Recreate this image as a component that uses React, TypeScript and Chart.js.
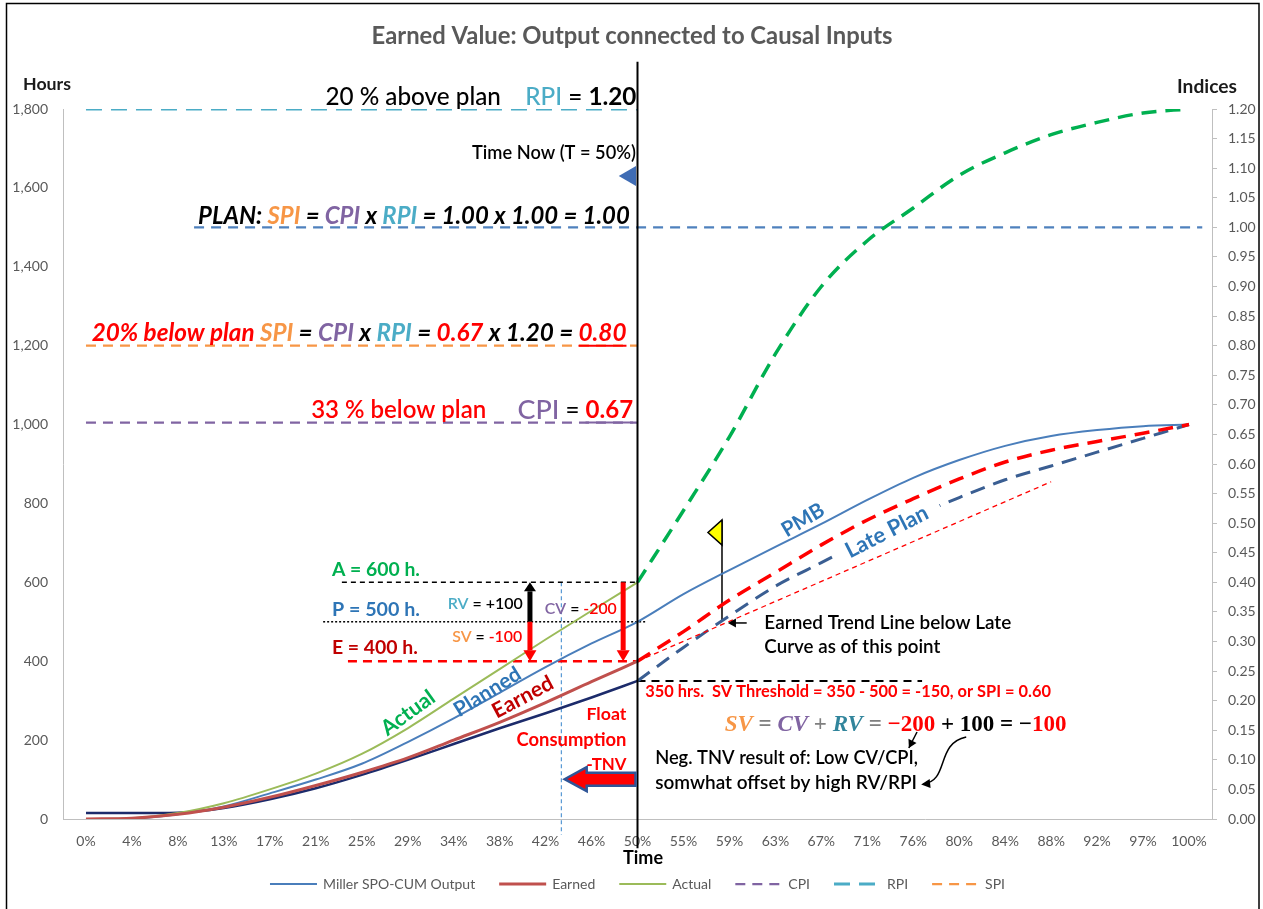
import { useEffect, useRef } from 'react';
import { Chart, registerables } from 'chart.js';

Chart.register(...registerables);

const SANS = 'Lato, "Open Sans", "DejaVu Sans", sans-serif';
const SERIF = '"Liberation Serif", "DejaVu Serif", serif';

// Time axis: share of the schedule elapsed
const timeLabels = ['0%', '4%', '8%', '13%', '17%', '21%', '25%', '29%', '34%', '38%', '42%', '46%', '50%',
  '55%', '59%', '63%', '67%', '71%', '76%', '80%', '84%', '88%', '92%', '97%', '100%'];

// Cumulative hours over the whole schedule (PMB)
const plannedHours = [0, 1, 12, 32, 65, 100, 140, 195, 255, 320, 385, 445, 500,
  570, 631, 690, 748, 809, 865, 910, 946, 971, 986, 996, 1000];
// Cumulative hours from 0% to time now (50%)
const earnedHours = [0, 2, 12, 30, 55, 85, 118, 155, 200, 245, 295, 348, 400];
const actualHours = [0, 2, 15, 40, 75, 115, 165, 230, 305, 380, 455, 528, 600];
const latePlanHours = [15, 15, 16, 28, 50, 78, 112, 150, 190, 230, 268, 308, 350];
// Projections from time now (50%) to completion (100%)
const earnedForecast = [400, 475, 555, 625, 695, 758, 812, 862, 905, 935, 957, 978, 1000];
const actualForecast = [600, 782, 969, 1179, 1350, 1466, 1549, 1632, 1689, 1735, 1766, 1790, 1800];
const latePlanForecast = [350, 435, 515, 590, 650, 710, 765, 815, 860, 895, 930, 965, 1000];
// Earned trend line: [time %, hours]
const earnedTrend = [[50, 400], [87.5, 855]];

// Performance indices (right axis)
const rpiIndex = 1.2;
const planIndex = 1.0;
const spiIndex = 0.8;
const cpiIndex = 0.67;

// Status at time now
const timeNow = 50;
const actualNow = 600;
const plannedNow = 500;
const earnedNow = 400;
const svThreshold = 350;
const earnedSchedule = 43.1;

const RED = '#FF0000';
const CRIMSON = '#C00000';
const ORANGE = '#F79646';
const PURPLE = '#8064A2';
const CYAN = '#4BACC6';
const TEXT_GREEN = '#00B050';
const TEXT_BLUE = '#2E75B6';
const AXIS_GREY = '#595959';

const STYLE = {
  planned: { color: '#4A7EBB', width: 2, dash: [] as number[] },
  earned: { color: '#C0504D', width: 3, dash: [] as number[] },
  actual: { color: '#9BBB59', width: 2, dash: [] as number[] },
  cpi: { color: PURPLE, width: 2.25, dash: [10, 7] },
  rpi: { color: CYAN, width: 3, dash: [16, 9] },
  spi: { color: ORANGE, width: 2.25, dash: [10, 7] },
};

const N = timeLabels.length;
const past = (arr: number[]) => [...arr, ...Array(N - arr.length).fill(null)];
const future = (arr: number[]) => [...Array(N - arr.length).fill(null), ...arr];

const series = (label: string, data: any[], color: string, width: number, dash: number[] = []) => ({
  label, data, borderColor: color, backgroundColor: color, borderWidth: width, borderDash: dash,
  pointRadius: 0, fill: false, cubicInterpolationMode: 'monotone', spanGaps: false,
  xAxisID: 'x', yAxisID: 'y',
});

const segment = (label: string, pts: number[][], color: string, width: number, dash: number[],
  yAxisID = 'y', extra: any = {}) => ({
  label, data: pts.map(([x, y]) => ({ x, y })), borderColor: color, backgroundColor: color,
  borderWidth: width, borderDash: dash, pointRadius: 0, fill: false, tension: 0,
  xAxisID: 'xl', yAxisID, ...extra,
});

type Run = { t?: string; c?: string; b?: boolean; w?: number; i?: boolean; s?: number; f?: string; u?: string; g?: number };

const runFont = (r: Run, size: number) =>
  `${r.i ? 'italic ' : ''}${r.w ?? (r.b ? 700 : 400)} ${(size * (r.s ?? 1)).toFixed(2)}px ${r.f ?? SANS}`;

function rich(ctx: CanvasRenderingContext2D, runs: Run[], x: number, y: number, o: any) {
  const align = o.align ?? 'left';
  const base = o.size ?? 16;
  const widthAt = (sz: number) => runs.reduce((w, r) => {
    if (r.g) return w + r.g * sz;
    ctx.font = runFont(r, sz);
    return w + ctx.measureText(r.t ?? '').width;
  }, 0);
  const sz = o.width ? base * o.width / widthAt(base) : base;
  const total = widthAt(sz);
  ctx.save();
  ctx.translate(x, y);
  if (o.angle) ctx.rotate((o.angle * Math.PI) / 180);
  let cx = align === 'left' ? 0 : align === 'right' ? -total : -total / 2;
  ctx.textBaseline = 'middle';
  ctx.textAlign = 'left';
  if (o.bg) {
    ctx.fillStyle = o.bg;
    ctx.fillRect(cx - o.bgPad[0], -o.bgPad[1], total + 2 * o.bgPad[0], 2 * o.bgPad[1]);
  }
  for (const r of runs) {
    if (r.g) { cx += r.g * sz; continue; }
    ctx.font = runFont(r, sz);
    const w = ctx.measureText(r.t ?? '').width;
    ctx.fillStyle = r.c ?? '#000';
    ctx.fillText(r.t ?? '', cx, 0);
    if (r.u) {
      ctx.strokeStyle = r.u;
      ctx.lineWidth = 2;
      ctx.setLineDash([]);
      ctx.beginPath();
      ctx.moveTo(cx, sz * 0.52);
      ctx.lineTo(cx + w, sz * 0.52);
      ctx.stroke();
    }
    cx += w;
  }
  ctx.restore();
}

function head(ctx: CanvasRenderingContext2D, x: number, y: number, ang: number, len: number, half: number, color: string) {
  ctx.save();
  ctx.translate(x, y);
  ctx.rotate(ang);
  ctx.fillStyle = color;
  ctx.beginPath();
  ctx.moveTo(0, 0);
  ctx.lineTo(-len, -half);
  ctx.lineTo(-len, half);
  ctx.closePath();
  ctx.fill();
  ctx.restore();
}

function fatArrowV(ctx: CanvasRenderingContext2D, x: number, from: number, to: number, color: string,
  shaft: number, headW: number, headL: number) {
  const dir = Math.sign(to - from);
  const yb = to - dir * headL;
  ctx.fillStyle = color;
  ctx.fillRect(x - shaft / 2, Math.min(from, yb), shaft, Math.abs(yb - from));
  ctx.beginPath();
  ctx.moveTo(x - headW / 2, yb);
  ctx.lineTo(x + headW / 2, yb);
  ctx.lineTo(x, to);
  ctx.closePath();
  ctx.fill();
}

// Notes placed in data space: at = [time %, hours]
const notes: any[] = [
  { at: [49.9, 1830], align: 'right', width: 311, size: 22, runs: [
    { t: '20 % above plan', w: 500 }, { g: 1.0 }, { t: 'RPI', c: CYAN, w: 500 }, { t: ' = ', w: 500 }, { t: '1.20', b: true }] },
  { at: [49.86, 1688], align: 'right', width: 164, size: 17, runs: [{ t: 'Time Now (T = 50%)', w: 600 }] },
  { at: [49.3, 1529], align: 'right', width: 432, size: 22, runs: [
    { t: 'PLAN: ', i: true, b: true }, { t: 'SPI', c: ORANGE, i: true, b: true }, { t: ' = ', i: true, b: true },
    { t: 'CPI', c: PURPLE, i: true, b: true }, { t: ' x ', i: true, b: true }, { t: 'RPI', c: CYAN, i: true, b: true },
    { t: ' = 1.00 x 1.00 = 1.00', i: true, b: true }] },
  { at: [49.0, 1232], align: 'right', width: 535, size: 22, runs: [
    { t: '20% below plan ', c: RED, i: true, b: true }, { t: 'SPI', c: ORANGE, i: true, b: true },
    { t: ' = ', i: true, b: true }, { t: 'CPI', c: PURPLE, i: true, b: true }, { t: ' x ', i: true, b: true },
    { t: 'RPI', c: CYAN, i: true, b: true }, { t: ' = ', i: true, b: true }, { t: '0.67', c: RED, i: true, b: true },
    { t: ' x 1.20 = ', i: true, b: true }, { t: '0.80', c: RED, i: true, b: true, u: RED }] },
  { at: [49.6, 1037], align: 'right', width: 322, size: 22, runs: [
    { t: '33 % below plan', c: RED, w: 600 }, { g: 1.3 }, { t: 'CPI', c: PURPLE, s: 1.12, w: 500 }, { t: ' = ', w: 500 },
    { t: '0.67', c: RED, b: true, u: PURPLE }] },
  { at: [22.3, 631], width: 88, size: 18, runs: [{ t: 'A = 600 h.', c: TEXT_GREEN, b: true }] },
  { at: [22.3, 530], width: 88, size: 18, runs: [{ t: 'P = 500 h.', c: TEXT_BLUE, b: true }] },
  { at: [22.3, 434], width: 86, size: 18, runs: [{ t: 'E = 400 h.', c: CRIMSON, b: true }] },
  { at: [32.8, 545], width: 75, size: 14, runs: [{ t: 'RV', c: CYAN, w: 600 }, { t: ' = +100', w: 600 }] },
  { at: [41.6, 532], width: 72, size: 14, runs: [{ t: 'CV', c: PURPLE, w: 600 }, { t: ' = ', w: 600 }, { t: '-200', c: RED, w: 600 }] },
  { at: [33.2, 461], width: 70, size: 14, runs: [{ t: 'SV', c: ORANGE, w: 600 }, { t: ' = ', w: 600 }, { t: '-100', c: RED, w: 600 }] },
  { at: [29.2, 269], align: 'center', angle: -36, width: 61, size: 18, runs: [{ t: 'Actual', c: TEXT_GREEN, b: true }] },
  { at: [36.4, 322], align: 'center', angle: -32, width: 75, size: 18, runs: [{ t: 'Planned', c: TEXT_BLUE, b: true }] },
  { at: [39.6, 309], align: 'center', angle: -28, width: 66, size: 18, runs: [{ t: 'Earned', c: CRIMSON, b: true }] },
  { at: [49.0, 266], align: 'right', width: 40, size: 17, runs: [{ t: 'Float', c: RED, b: true }] },
  { at: [49.0, 200], align: 'right', width: 110, size: 17, runs: [{ t: 'Consumption', c: RED, b: true }] },
  { at: [49.0, 139], align: 'right', width: 40, size: 17, runs: [{ t: '-TNV', c: RED, b: true }] },
  { at: [50.7, 322], width: 406, size: 15, runs: [{ t: '350 hrs.  SV Threshold = 350 - 500 = -150, or SPI = 0.60', c: RED, b: true }] },
  { at: [57.9, 238], width: 342, size: 20, runs: [
    { t: 'SV', c: ORANGE, i: true, b: true, f: SERIF }, { t: ' = ', c: '#7F7F7F', b: true, f: SERIF },
    { t: 'CV', c: PURPLE, i: true, b: true, f: SERIF }, { t: ' + ', c: '#7F7F7F', b: true, f: SERIF },
    { t: 'RV', c: '#31859C', i: true, b: true, f: SERIF }, { t: ' = ', c: '#7F7F7F', b: true, f: SERIF },
    { t: '\u2212200', c: RED, b: true, f: SERIF }, { t: ' + ', b: true, f: SERIF }, { t: '100', b: true, f: SERIF },
    { t: ' = \u2212', b: true, f: SERIF }, { t: '100', c: RED, b: true, f: SERIF }] },
  { at: [51.6, 155], width: 263, size: 17, runs: [{ t: 'Neg. TNV result of: Low CV/CPI,', w: 600 }] },
  { at: [51.6, 91], width: 262, size: 17, runs: [{ t: 'somwhat offset by high RV/RPI', w: 600 }] },
  { at: [61.5, 497], width: 247, size: 17, runs: [{ t: 'Earned Trend Line below Late', w: 600 }] },
  { at: [61.5, 436], width: 176, size: 17, runs: [{ t: 'Curve as of this point', w: 600 }] },
  { at: [65.0, 758], align: 'center', angle: -31, width: 46, size: 18, runs: [{ t: 'PMB', c: TEXT_BLUE, b: true }] },
  { at: [72.6, 728], align: 'center', angle: -27, width: 90, size: 18, bg: '#FFFFFF', bgPad: [14, 11],
    runs: [{ t: 'Late Plan', c: TEXT_BLUE, b: true }] },
];

const legendItems = [
  { label: 'Miller SPO-CUM Output', ...STYLE.planned },
  { label: 'Earned', ...STYLE.earned },
  { label: 'Actual', ...STYLE.actual },
  { label: 'CPI', ...STYLE.cpi },
  { label: 'RPI', ...STYLE.rpi },
  { label: 'SPI', ...STYLE.spi },
];

const annotations = {
  id: 'annotations',
  afterDatasetsDraw(chart: any) {
    const ctx: CanvasRenderingContext2D = chart.ctx;
    const xs = chart.scales.xl;
    const ys = chart.scales.y;
    const X = (p: number) => xs.getPixelForValue(p);
    const Y = (h: number) => ys.getPixelForValue(h);
    ctx.save();
    ctx.setLineDash([]);

    // variance arrows
    fatArrowV(ctx, X(40.25), Y(plannedNow), Y(actualNow), '#000', 5, 12, 9);
    fatArrowV(ctx, X(40.25), Y(plannedNow), Y(earnedNow), RED, 5, 13, 11);
    fatArrowV(ctx, X(48.7), Y(actualNow), Y(earnedNow), RED, 5, 13, 11);

    // time-now marker
    const my = Y(1630);
    ctx.fillStyle = '#3F6CB4';
    ctx.beginPath();
    ctx.moveTo(X(48.3), my);
    ctx.lineTo(X(timeNow) - 1.5, my - 10);
    ctx.lineTo(X(timeNow) - 1.5, my + 10);
    ctx.closePath();
    ctx.fill();

    // float consumption block arrow
    const tip = X(43.4);
    const tail = X(timeNow) - 2;
    const cy = Y(101);
    const hl = 22;
    ctx.beginPath();
    ctx.moveTo(tail, cy - 6.5);
    ctx.lineTo(tip + hl, cy - 6.5);
    ctx.lineTo(tip + hl, cy - 12);
    ctx.lineTo(tip, cy);
    ctx.lineTo(tip + hl, cy + 12);
    ctx.lineTo(tip + hl, cy + 6.5);
    ctx.lineTo(tail, cy + 6.5);
    ctx.closePath();
    ctx.fillStyle = RED;
    ctx.fill();
    ctx.strokeStyle = '#2F5597';
    ctx.lineWidth = 2.5;
    ctx.stroke();

    // flag at the crossing point
    const fx = X(57.66);
    const fy = Y(758);
    ctx.beginPath();
    ctx.moveTo(fx, fy);
    ctx.lineTo(fx, fy + 25);
    ctx.lineTo(fx - 14, fy + 12.5);
    ctx.closePath();
    ctx.fillStyle = '#FFFF00';
    ctx.fill();
    ctx.strokeStyle = '#000';
    ctx.lineWidth = 1.5;
    ctx.stroke();

    // pointer to the crossing point
    ctx.strokeStyle = '#000';
    ctx.lineWidth = 1.5;
    ctx.beginPath();
    ctx.moveTo(X(59.9), Y(497));
    ctx.lineTo(X(58.6), Y(497));
    ctx.stroke();
    head(ctx, X(58.2), Y(497), Math.PI, 8, 4.5, '#000');

    // pointers from the formula to the explanation
    const a0 = [X(75.34), Y(220.6)];
    const a1 = [X(74.6), Y(180)];
    ctx.beginPath();
    ctx.moveTo(a0[0], a0[1]);
    ctx.lineTo(a1[0], a1[1]);
    ctx.stroke();
    head(ctx, a1[0], a1[1], Math.atan2(a1[1] - a0[1], a1[0] - a0[0]), 8, 4.5, '#000');
    const c0 = [X(79.8), Y(208)];
    const c1 = [X(77.0), Y(192)];
    const c2 = [X(78.3), Y(96)];
    const c3 = [X(75.9), Y(89)];
    ctx.beginPath();
    ctx.moveTo(c0[0], c0[1]);
    ctx.bezierCurveTo(c1[0], c1[1], c2[0], c2[1], c3[0], c3[1]);
    ctx.stroke();
    head(ctx, c3[0] - 2, c3[1] + 0.5, Math.atan2(c3[1] - c2[1], c3[0] - c2[0]), 9, 4.5, '#000');

    for (const n of notes) rich(ctx, n.runs, X(n.at[0]), Y(n.at[1]), n);
    ctx.restore();
  },
  afterDraw(chart: any) {
    const ctx: CanvasRenderingContext2D = chart.ctx;
    ctx.save();
    rich(ctx, [{ t: 'Earned Value: Output connected to Causal Inputs', c: AXIS_GREY, b: true }], 632, 36,
      { align: 'center', width: 521, size: 20 });
    rich(ctx, [{ t: 'Hours', c: '#1A1A1A', b: true }], 23, 84, { width: 48, size: 16 });
    rich(ctx, [{ t: 'Indices', c: '#1A1A1A', b: true }], 1177, 87, { width: 60, size: 16 });
    rich(ctx, [{ t: 'Time', c: '#000', b: true }], 643, 858, { align: 'center', width: 40, size: 17 });

    // legend
    ctx.font = `400 14px ${SANS}`;
    const lineLen = 47;
    const gap = 6;
    const spacing = 24;
    const widths = legendItems.map((it) => ctx.measureText(it.label).width);
    const total = widths.reduce((s, w) => s + lineLen + gap + w, 0) + spacing * (legendItems.length - 1);
    let lx = (chart.chartArea.left + chart.chartArea.right) / 2 - total / 2;
    const ly = 884;
    legendItems.forEach((it, k) => {
      ctx.strokeStyle = it.color;
      ctx.lineWidth = it.width;
      ctx.setLineDash(it.dash);
      ctx.beginPath();
      ctx.moveTo(lx, ly);
      ctx.lineTo(lx + lineLen, ly);
      ctx.stroke();
      ctx.setLineDash([]);
      ctx.fillStyle = AXIS_GREY;
      ctx.textAlign = 'left';
      ctx.textBaseline = 'middle';
      ctx.font = `400 14px ${SANS}`;
      ctx.fillText(it.label, lx + lineLen + gap, ly);
      lx += lineLen + gap + widths[k] + spacing;
    });

    // frame
    ctx.strokeStyle = '#000';
    ctx.lineWidth = 1.5;
    ctx.strokeRect(6.5, 3.5, 1252.5, 950);
    ctx.restore();
  },
};

export default function App() {
  const ref = useRef<HTMLCanvasElement>(null);

  useEffect(() => {
    const canvas = ref.current;
    if (!canvas) return;
    const datasets: any[] = [
      segment('Time now', [[timeNow, 1920], [timeNow, -74]], '#000', 2, [], 'y', { clip: false }),
      segment('Earned trend', earnedTrend, RED, 1.3, [5, 4]),
      series('Actual forecast', future(actualForecast), '#00B050', 3.5, [15, 9]),
      series('Earned forecast', future(earnedForecast), RED, 3.5, [15, 9]),
      series('Late plan forecast', future(latePlanForecast), '#3A5E92', 3, [15, 9]),
      series('Earned', past(earnedHours), STYLE.earned.color, STYLE.earned.width),
      series('Actual', past(actualHours), STYLE.actual.color, STYLE.actual.width),
      series('Miller SPO-CUM Output', plannedHours, STYLE.planned.color, STYLE.planned.width),
      series('Late plan', past(latePlanHours), '#1C2B6B', 2.5),
      segment('Actual level', [[23.2, actualNow], [timeNow, actualNow]], '#000', 1.5, [5, 4]),
      segment('Planned level', [[21.5, plannedNow], [50.7, plannedNow]], '#000', 1.5, [2, 2]),
      segment('Earned level', [[23.75, earnedNow], [timeNow, earnedNow]], RED, 2.5, [9, 6]),
      segment('SV threshold', [[timeNow, svThreshold], [75.8, svThreshold]], '#000', 2, [8, 6]),
      segment('Earned schedule', [[earnedSchedule, actualNow], [earnedSchedule, -40]], '#5B9BD5', 1.25, [4, 3], 'y', { clip: false }),
      segment('Flag pole', [[57.66, 504], [57.66, 758]], '#000', 1.5, []),
      segment('RPI', [[0, rpiIndex], [timeNow, rpiIndex]], STYLE.rpi.color, STYLE.rpi.width, STYLE.rpi.dash, 'yIdx'),
      segment('PLAN', [[9.8, planIndex], [101.2, planIndex]], '#4F81BD', 2.25, [10, 7], 'yIdx'),
      segment('SPI', [[0, spiIndex], [timeNow, spiIndex]], STYLE.spi.color, STYLE.spi.width, STYLE.spi.dash, 'yIdx'),
      segment('CPI', [[0, cpiIndex], [timeNow, cpiIndex]], STYLE.cpi.color, STYLE.cpi.width, STYLE.cpi.dash, 'yIdx'),
    ];

    const tickFont = { family: SANS, size: 14 };
    const chart = new Chart(canvas, {
      type: 'line',
      data: { labels: timeLabels, datasets },
      options: {
        responsive: false,
        animation: false,
        devicePixelRatio: 1,
        events: [],
        layout: { padding: { top: 109, left: 0, right: 0, bottom: 0 } },
        plugins: { legend: { display: false }, title: { display: false }, tooltip: { enabled: false } },
        scales: {
          x: {
            type: 'category',
            offset: true,
            grid: { display: false, drawTicks: false },
            border: { display: true, color: '#BFBFBF', width: 1 },
            ticks: { color: AXIS_GREY, font: tickFont, maxRotation: 0, autoSkip: false, padding: 14 },
            afterFit: (s: any) => { s.height = 90; },
          },
          xl: { type: 'linear', display: false, min: -100 / 48, max: 100 + 100 / 48 },
          y: {
            position: 'left',
            min: 0,
            max: 1800,
            grid: { display: false, drawTicks: false },
            border: { display: true, color: '#BFBFBF', width: 1 },
            ticks: { stepSize: 200, color: AXIS_GREY, font: tickFont, padding: 15,
              callback: (v: any) => Number(v).toLocaleString('en-US') },
            afterFit: (s: any) => { s.width = 63; },
          },
          yIdx: {
            position: 'right',
            min: 0,
            max: 1.2,
            grid: { display: true, drawOnChartArea: false, drawTicks: true, tickLength: 5, color: '#BFBFBF' },
            border: { display: true, color: '#BFBFBF', width: 1 },
            ticks: { stepSize: 0.05, color: AXIS_GREY, font: tickFont, padding: 11,
              callback: (v: any) => Number(v).toFixed(2) },
            afterFit: (s: any) => { s.width = 51; },
          },
        },
      } as any,
      plugins: [annotations],
    });
    return () => chart.destroy();
  }, []);

  return (
    <div style={{ position: 'absolute', left: 0, top: 0, width: 1263, height: 909, background: '#FFFFFF' }}>
      <canvas ref={ref} width={1263} height={909} style={{ display: 'block', width: 1263, height: 909 }} />
    </div>
  );
}
